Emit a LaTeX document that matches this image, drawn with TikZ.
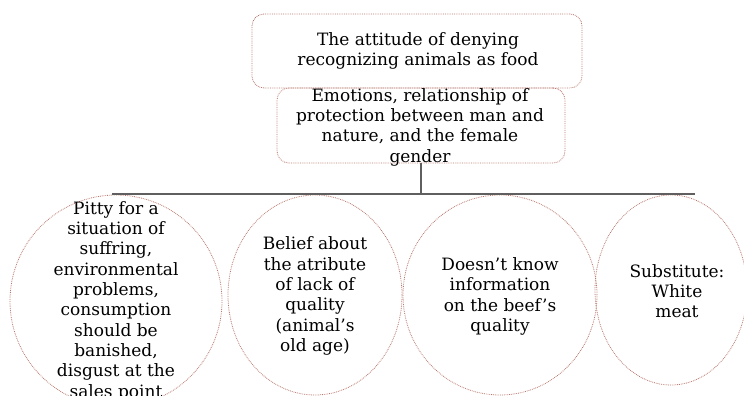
\documentclass[tikz,border=0pt]{standalone}
\usepackage{fontspec}
\setmainfont{DejaVu Serif}
\usetikzlibrary{shapes.geometric}
\definecolor{rimred}{RGB}{185,120,110}
\definecolor{linegray}{RGB}{95,95,95}
\begin{document}
\begin{tikzpicture}[x=1pt,y=-1pt,
    box/.style={draw=rimred,densely dotted,line width=0.8pt,rounded corners=12pt,
                minimum width=#1,inner sep=0pt},
    bub/.style={draw=rimred,densely dotted,line width=0.8pt,ellipse,inner sep=0pt},
    txt/.style={align=center,inner sep=0pt,
                font=\fontsize{17}{20.3}\selectfont},
    link/.style={draw=linegray,line width=1.1pt}]
  \clip (0,0) rectangle (744,396);
  % the two boxes on top
  \node[box=330pt,minimum height=74pt] (attitude) at (417,51) {};
  \node[txt] (attitudetxt) at (418,51) {The attitude of denying\\recognizing animals as food};
  \node[box=288pt,minimum height=75pt] (emotions) at (421,125.5) {};
  \node[txt] (emotionstxt) at (420,127) {Emotions, relationship of\\protection between man and\\nature, and the female\\gender};
  % the four bubbles
  \node[bub,minimum width=212pt,minimum height=212pt] (pity) at (116,301) {};
  \node[bub,minimum width=174pt,minimum height=200pt] (belief) at (315,295) {};
  \node[bub,minimum width=194pt,minimum height=200pt] (unknown) at (500,295) {};
  \node[bub,minimum width=152pt,minimum height=190pt] (substitute) at (671,290) {};
  \node[txt] (pitytxt) at (116,301) {Pitty for a\\situation of\\suffring,\\environmental\\problems,\\consumption\\should be\\banished,\\disgust at the\\sales point};
  \node[txt] (belieftxt) at (315,296) {Belief about\\the atribute\\of lack of\\quality\\(animal’s\\old age)};
  \node[txt] (unknowntxt) at (500,296.5) {Doesn’t know\\information\\on the beef’s\\quality};
  \node[txt] (substitutetxt) at (677,291) {Substitute:\\White\\meat};
  % connectors
  \coordinate (fork) at (emotions.south |- 0,194);
  \coordinate (railleft) at (112,194);
  \coordinate (railright) at (695,194);
  \draw[link] (emotions.south) -- (fork);
  \draw[link] (railleft) -- (railright);
\end{tikzpicture}
\end{document}
